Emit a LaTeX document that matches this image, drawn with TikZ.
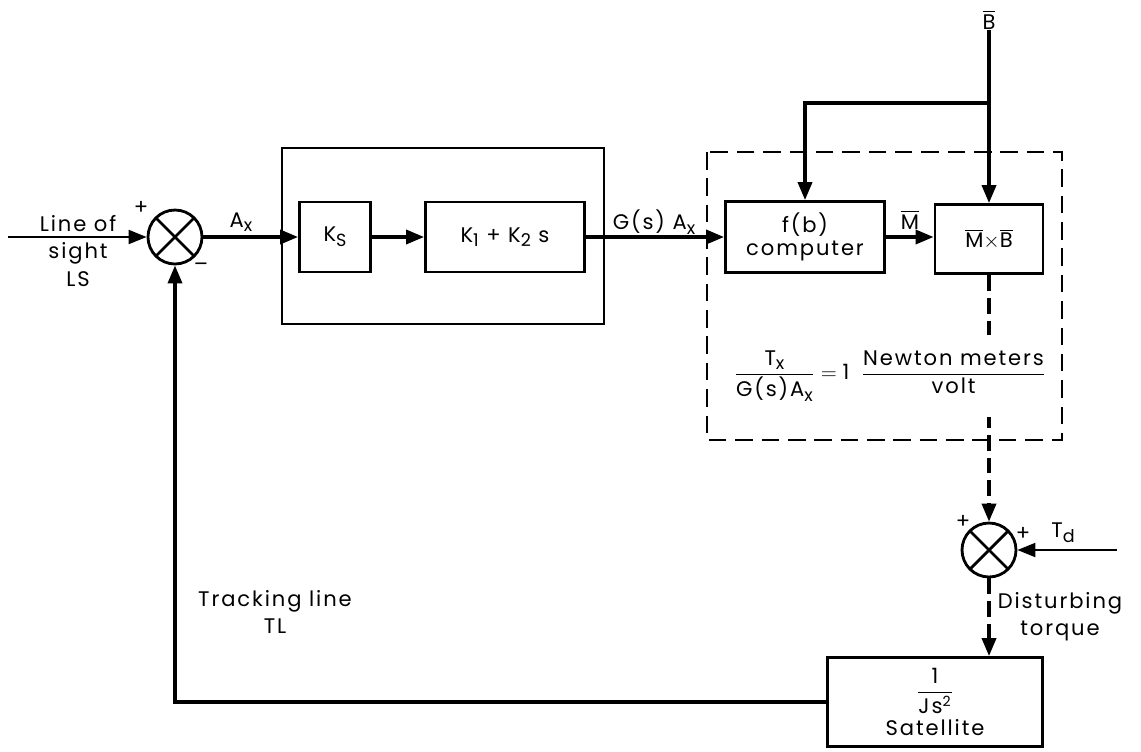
\documentclass[tikz,border=0pt]{standalone}
\usepackage{amsmath}
\usepackage{fontspec}
\setmainfont[LetterSpace=9]{Poppins}
\usetikzlibrary{arrows.meta,positioning}
\newcommand{\vbar}[1]{$\overline{\mbox{#1}}$}
\newcommand{\lowsub}[1]{\raisebox{-0.4ex}{\fontsize{10}{12}\selectfont #1}}
\tikzset{
  blk/.style={draw, line width=1.6pt, align=center, inner sep=2pt},
  sumjn/.style={draw, circle, line width=1.6pt, minimum size=1.08cm, inner sep=0pt,
    path picture={\draw[line width=1.6pt]
      (path picture bounding box.north west) -- (path picture bounding box.south east)
      (path picture bounding box.north east) -- (path picture bounding box.south west);}},
  sig/.style={line width=2pt, -{Triangle[length=0.36cm,width=0.28cm]}},
  dsig/.style={sig, dash pattern=on 9pt off 4pt},
  lbl/.style={inner sep=0pt, align=center},
}
\begin{document}
\begin{tikzpicture}[x=0.02cm, y=-0.02cm, font=\fontsize{12}{15.5}\selectfont]
    \useasboundingbox (0,0) rectangle (1141,751);
    % forward path
    \node[sumjn] (sum1) at (175,237) {};
    \node[blk, minimum width=1.42cm, minimum height=1.4cm] (ks) at (335,237) {K\lowsub{S}};
    \node[blk, minimum width=3.18cm, minimum height=1.4cm] (pid) at (505,237) {K\lowsub{1} + K\lowsub{2} s};
    \node[blk, minimum width=3.18cm, minimum height=1.42cm] (fb) at (805,237) {f(b)\\[-2pt]computer};
    \node[blk, minimum width=2.16cm, minimum height=1.38cm] (mxb) at (989,239) {\vbar{M}$\times$\vbar{B}};
    \node[sumjn] (sum2) at (989,550) {};
    \node[blk, minimum width=4.3cm, minimum height=1.78cm] (sat) at (935,702) {$\dfrac{\mbox{1}}{\mbox{Js\textsuperscript{2}}}$\\[2pt]Satellite};
    % frames
    \draw[line width=1.4pt] (282,148) rectangle (604,324);
    \draw[line width=1.4pt, dash pattern=on 10pt off 5pt] (707,152) rectangle (1062,440);
    % inputs
    \coordinate (ls) at (8,237);
    \coordinate (td) at (1117,550);
    \node[lbl] (bbar) at (989,20) {\vbar{B}};
    \coordinate (split) at (989,103);
    % connectors
    \draw[sig, line width=1.2pt] (ls) -- (sum1.west);
    \draw[sig] (sum1.east) -- (ks.west);
    \draw[sig] (ks.east) -- (pid.west);
    \draw[sig] (pid.east) -- (fb.west);
    \draw[sig] (fb.east) -- (fb.east -| mxb.west);
    \draw[sig] (bbar.south) -- (mxb.north);
    \draw[sig] (split) -| (fb.north);
    \draw[dsig] (mxb.south) -- (sum2.north);
    \draw[sig, line width=1.2pt] (td) -- (sum2.east);
    \draw[dsig] (sum2.south) -- (sum2.south |- sat.north);
    \draw[sig] (sat.west) -| (sum1.south);
    % labels
    \node[lbl] (lslbl) at (78,251) {Line of\\sight\\LS};
    \node[lbl] (p1) at (141,208) {+};
    \node[lbl] (m1) at (201,267) {--};
    \node[lbl] (axlbl) at (241,222) {A\lowsub{x}};
    \node[lbl] (gslbl) at (654,222) {G(s) A\lowsub{x}};
    \node[lbl] (mlbl) at (910,220) {\vbar{M}};
    \node[lbl, fill=white, inner xsep=2pt, inner ysep=9pt] (eq) at (890,376) {$\dfrac{\mbox{T\lowsub{x}}}{\mbox{G(s)A\lowsub{x}}}=\mbox{1}\;\;\dfrac{\mbox{Newton meters}}{\mbox{volt}}$};
    \node[lbl] (p2) at (963,522) {+};
    \node[lbl] (p3) at (1023,534) {+};
    \node[lbl] (tdlbl) at (1063,533) {T\lowsub{d}};
    \node[lbl] (dtlbl) at (1060,617) {Disturbing\\torque};
    \node[lbl] (tllbl) at (275,612) {Tracking line\\TL};
\end{tikzpicture}
\end{document}
